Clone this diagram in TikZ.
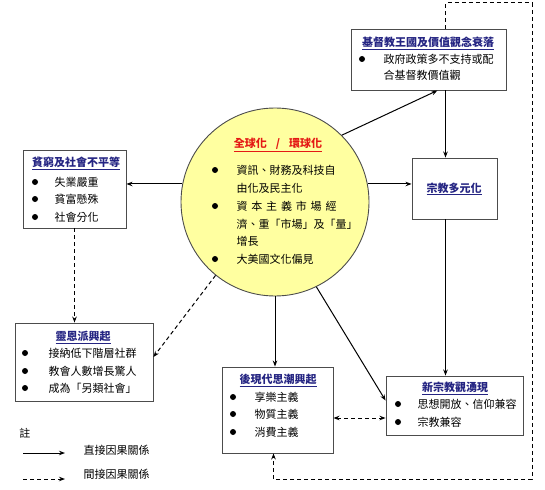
\documentclass[tikz,border=0pt]{standalone}
\usepackage{fontspec}
\setmainfont{Noto Sans CJK TC}
\usepackage{tikz}
\usetikzlibrary{positioning,arrows.meta}
\usepackage{xcolor}
\definecolor{ttlblue}{RGB}{36,36,130}
\definecolor{globred}{RGB}{228,24,20}
\definecolor{globfill}{RGB}{255,255,160}
\newcommand{\boxfont}{\fontsize{11}{13}\selectfont}

\begin{document}
\begin{tikzpicture}[x=1pt,y=-1pt,>={Stealth[length=6pt,width=4.5pt]},font=\boxfont,
  box/.style={draw=black!70,line width=0.9pt,fill=white},
  ttl/.style={font=\boxfont\bfseries,text=ttlblue},
  txt/.style={anchor=west},
  dot/.style={circle,fill=black,inner sep=0pt,minimum size=6pt},
  dep/.style={->,line width=1pt},
  ind/.style={->,line width=1pt,dash pattern=on 4pt off 3pt}]
\useasboundingbox (0,0) rectangle (545,489);
\node[circle,draw=black!70,line width=0.9pt,fill=globfill,minimum size=188pt] (glob) at (275,202) {};
\node[box,minimum width=155pt,minimum height=61pt] (kingdom) at (428.5,59.5) {};
\node[box,minimum width=103pt,minimum height=78pt] (poverty) at (74.5,189) {};
\node[box,minimum width=138pt,minimum height=78pt] (charis) at (84,362) {};
\node[box,minimum width=111pt,minimum height=86pt] (postmod) at (277.5,410) {};
\node[box,minimum width=137pt,minimum height=59pt] (newrel) at (454.5,405.5) {};
\node[box,minimum width=85pt,minimum height=61pt] (plural) at (454.5,188.5) {};

\node[font=\boxfont\bfseries,text=globred] (globt) at (278,145) {\underline{全球化\hspace{9pt}/\hspace{9pt}環球化}};
\node[dot] (g1) at (215,170) {};
\node[dot] (g2) at (215,206) {};
\node[dot] (g3) at (215,259) {};
\node[txt] (gt1) at (233,170) {資訊、財務及科技自};
\node[txt] (gt2) at (233,188) {由化及民主化};
\node[txt] (gt3) at (233,206) {\makebox[100pt][l]{資\hfill 本\hfill 主\hfill 義\hfill 市\hfill 場\hfill 經}};
\node[txt] (gt4) at (233,224) {濟、重「市場」及「量」};
\node[txt] (gt5) at (233,241) {增長};
\node[txt] (gt6) at (233,259) {大美國文化偏見};

\node[ttl] (kt) at (428,43) {\underline{基督教王國及價值觀念衰落}};
\node[dot] (k1) at (362,59) {};
\node[txt] (kt1) at (380,59) {政府政策多不支持或配};
\node[txt] (kt2) at (380,75) {合基督教價值觀};

\node[ttl] (pt) at (76,163) {\underline{貧窮及社會不平等}};
\node[dot] (p1) at (35,182) {};
\node[dot] (p2) at (35,199) {};
\node[dot] (p3) at (35,217) {};
\node[txt] (pt1) at (51,182) {失業嚴重};
\node[txt] (pt2) at (51,199) {貧富懸殊};
\node[txt] (pt3) at (51,217) {社會分化};

\node[ttl] (ct) at (83,337) {\underline{靈恩派興起}};
\node[dot] (c1) at (25,353) {};
\node[dot] (c2) at (25,371) {};
\node[dot] (c3) at (25,388) {};
\node[txt] (ct1) at (45,353) {接納低下階層社群};
\node[txt] (ct2) at (45,371) {教會人數增長驚人};
\node[txt] (ct3) at (45,388) {成為「另類社會」};

\node[ttl] (mt) at (278,380) {\underline{後現代思潮興起}};
\node[dot] (m1) at (233,397) {};
\node[dot] (m2) at (233,414) {};
\node[dot] (m3) at (233,432) {};
\node[txt] (mt1) at (251,397) {享樂主義};
\node[txt] (mt2) at (251,414) {物質主義};
\node[txt] (mt3) at (251,432) {消費主義};

\node[ttl] (nt) at (455,388) {\underline{新宗教觀湧現}};
\node[dot] (n1) at (398,404) {};
\node[dot] (n2) at (398,422) {};
\node[txt] (nt1) at (414,404) {思想開放、信仰兼容};
\node[txt] (nt2) at (414,422) {宗教兼容};

\node[ttl] (rt) at (454,189) {\underline{宗教多元化}};

\draw[dep] (glob.45) -- ([xshift=9pt]kingdom.south);
\draw[dep] (glob.11) -- (plural.west |- glob.11);
\draw[dep] (glob.169) -- (poverty.east |- glob.169);
\draw[dep] (glob.south) -- (glob.south |- postmod.north);
\draw[dep] (glob.-64) -- ([yshift=5pt]newrel.west);
\draw[ind] (glob.231) -- ([yshift=5pt]charis.east);
\draw[ind] (poverty.south) -- (poverty.south |- charis.north);
\draw[dep] ([xshift=-9pt]plural.north |- kingdom.south) -- ([xshift=-9pt]plural.north);
\draw[dep] ([xshift=-9pt]plural.south) -- ([xshift=-9pt]newrel.north);
\draw[ind,<->] ([yshift=-8pt]postmod.east) -- ([yshift=-8pt]postmod.east -| newrel.west);
\coordinate (tr) at (532,3);
\coordinate (br) at (532,479);
\draw[ind] ([xshift=17pt]kingdom.north) |- (tr) -- (br) -| ([xshift=-4pt]postmod.south);

\node (note) at (25,433) {註};
\coordinate (l1a) at (23,453);
\coordinate (l1b) at (65,453);
\coordinate (l2a) at (23,479);
\coordinate (l2b) at (65,479);
\draw[dep] (l1a) -- (l1b);
\draw[ind] (l2a) -- (l2b);
\node[txt] (l1t) at (80,450) {直接因果關係};
\node[txt] (l2t) at (80,474) {間接因果關係};
\end{tikzpicture}
\end{document}
